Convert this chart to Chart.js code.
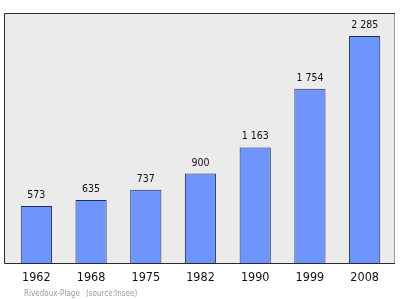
<!DOCTYPE html>
<html>
<head>
<meta charset="utf-8">
<script src="https://cdn.jsdelivr.net/npm/chart.js@4.4.0/dist/chart.umd.min.js"></script>
<style>
  html, body { margin: 0; padding: 0; background: #fff; }
  #myChart { display: block; }
</style>
</head>
<body>
<canvas id="myChart" width="400" height="299"></canvas>
<script>
// data
let years = ['1962', '1968', '1975', '1982', '1990', '1999', '2008'];
let population = [573, 635, 737, 900, 1163, 1754, 2285];
let townName = 'Rivedoux-Plage';
let sourceText = '(source:Insee)';

let fontName = '"DejaVu Sans Condensed", "DejaVu Sans", sans-serif';

function fmt(v) {
  // french style thousands separator
  return String(v).replace(/\B(?=(\d{3})+(?!\d))/g, ' ');
}

// grey plot box behind the bars
let plotBox = {
  id: 'plotBox',
  beforeDatasetsDraw(chart) {
    let ctx = chart.ctx;
    let a = chart.chartArea;
    let l = a.left - 5, r = a.right + 3;
    ctx.save();
    ctx.fillStyle = '#ebebeb';
    ctx.fillRect(l, a.top, r - l, a.bottom - a.top);
    ctx.lineWidth = 1;
    // right edge is lighter
    ctx.strokeStyle = '#9a9a9a';
    ctx.beginPath();
    ctx.moveTo(r - 0.5, a.top);
    ctx.lineTo(r - 0.5, a.bottom);
    ctx.stroke();
    ctx.strokeStyle = '#2a2a2a';
    ctx.beginPath();
    ctx.moveTo(r, a.top + 0.5);
    ctx.lineTo(l + 0.5, a.top + 0.5);
    ctx.lineTo(l + 0.5, a.bottom + 0.5);
    ctx.lineTo(r, a.bottom + 0.5);
    ctx.stroke();
    ctx.restore();
  }
};

// numbers above bars + source line
let barLabels = {
  id: 'barLabels',
  afterDatasetsDraw(chart) {
    let ctx = chart.ctx;
    let meta = chart.getDatasetMeta(0);
    ctx.save();
    ctx.font = '10.5px ' + fontName;
    ctx.fillStyle = '#111';
    ctx.textAlign = 'center';
    ctx.textBaseline = 'alphabetic';
    meta.data.forEach(function(bar, i) {
      ctx.fillText(fmt(population[i]), bar.x, bar.y - 8);
    });
    ctx.font = '8px ' + fontName;
    ctx.fillStyle = '#9a9a9a';
    ctx.textAlign = 'left';
    ctx.fillText(townName, 24, 296);
    ctx.fillText(sourceText, 86, 296);
    ctx.restore();
  }
};

let graphTarget = document.getElementById('myChart');
let barGraph = new Chart(graphTarget, {
  type: 'bar',
  data: {
    labels: years,
    datasets: [{
      data: population,
      backgroundColor: '#6f95fd',
      borderColor: '#1f2d5c',
      borderWidth: 1,
      categoryPercentage: 1,
      barPercentage: 0.57
    }]
  },
  options: {
    responsive: false,
    animation: false,
    layout: { padding: { left: 9, right: 8, top: 13, bottom: 0 } },
    plugins: {
      legend: { display: false },
      tooltip: { enabled: false }
    },
    scales: {
      x: {
        grid: { display: false, drawTicks: false },
        border: { display: false },
        ticks: {
          padding: 7,
          color: '#111',
          font: { family: fontName, size: 12.5 }
        },
        afterFit: function(scale) { scale.height = 36; }
      },
      y: {
        display: false,
        min: 0,
        max: 2517
      }
    }
  },
  plugins: [plotBox, barLabels]
});
</script>
</body>
</html>
